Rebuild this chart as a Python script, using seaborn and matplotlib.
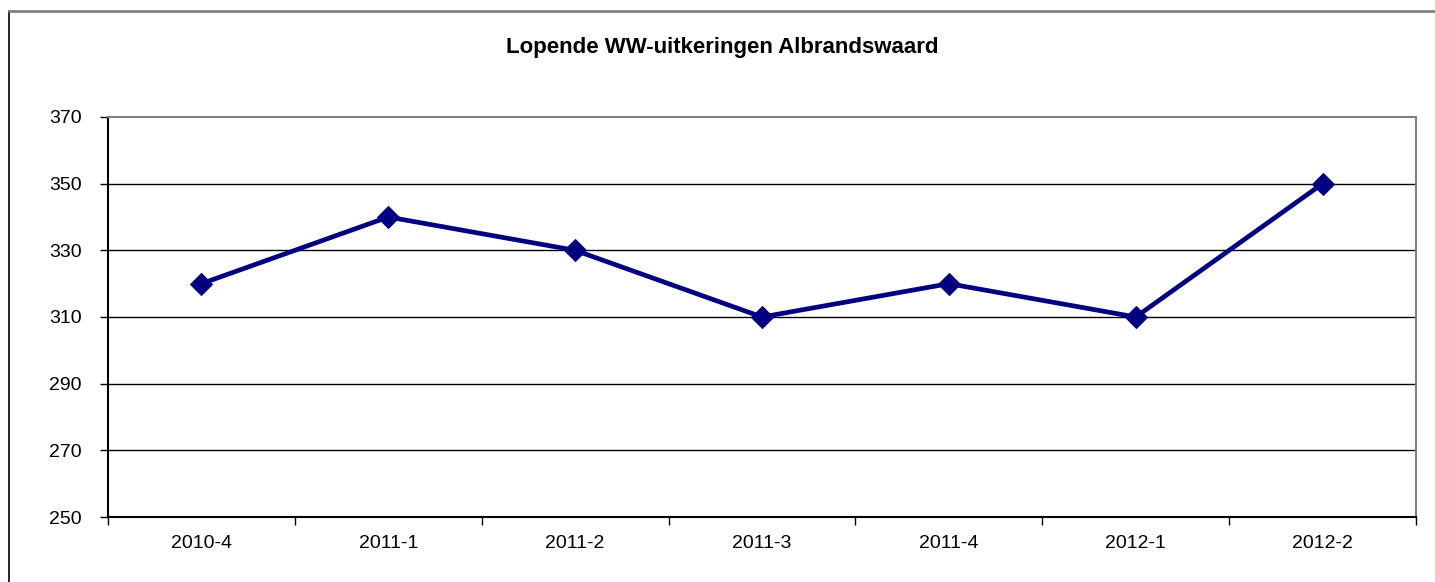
import matplotlib
matplotlib.use("Agg")
import matplotlib.pyplot as plt
from matplotlib.lines import Line2D
from matplotlib.ticker import FixedLocator
import seaborn as sns
import pandas as pd

quarters = ["2010-4", "2011-1", "2011-2", "2011-3", "2011-4", "2012-1", "2012-2"]
uitkeringen = [320, 340, 330, 310, 320, 310, 350]
y_ticks = [250, 270, 290, 310, 330, 350, 370]
title = "Lopende WW-uitkeringen Albrandswaard"

sns.set_style("white")
plt.rcParams["font.family"] = ["Liberation Sans", "DejaVu Sans"]
plt.rcParams["text.color"] = "black"

W, H = 1435, 582
fig = plt.figure(figsize=(W / 100, H / 100), dpi=100)
ax = fig.add_axes([108 / W, 1 - 517 / H, (1416 - 108) / W, (517 - 117) / H])

df = pd.DataFrame({"kwartaal": quarters, "aantal": uitkeringen})
df["pos"] = range(len(quarters))
sns.lineplot(data=df, x="pos", y="aantal", ax=ax, color="#000080", linewidth=3.4,
             marker="D", markersize=11, markeredgecolor="#000080", sort=False)

ax.set_xlim(-0.5, len(quarters) - 0.5)
ax.set_ylim(y_ticks[0], y_ticks[-1])
ax.set_yticks(y_ticks)
ax.set_xticks(range(len(quarters)))
ax.set_xticklabels(quarters)
ax.xaxis.set_minor_locator(FixedLocator([i - 0.5 for i in range(len(quarters) + 1)]))
ax.tick_params(axis="x", which="major", length=0, pad=13, labelsize=14, colors="black")
ax.tick_params(axis="x", which="minor", length=6, width=1, direction="out", color="black", bottom=True)
ax.tick_params(axis="y", length=6, width=1, direction="out", labelsize=14, pad=13, colors="black", left=True)
ax.set_xlabel("")
ax.set_ylabel("")

for y in y_ticks[1:-1]:
    ax.axhline(y, color="black", linewidth=1, zorder=0)

ax.spines["left"].set_color("black")
ax.spines["bottom"].set_color("black")
ax.spines["top"].set_color("#808080")
ax.spines["right"].set_color("#808080")
for s in ax.spines.values():
    s.set_linewidth(1.5)
    s.set_visible(True)

fig.text(722 / W, 1 - 48 / H, title, ha="center", va="center",
         fontsize=16, fontweight="bold", color="black")

fig.add_artist(Line2D([8.5 / W, 8.5 / W], [0, 1 - 10.5 / H], color="black", linewidth=1.2,
                      transform=fig.transFigure))
fig.add_artist(Line2D([8.5 / W, 1], [1 - 10.5 / H, 1 - 10.5 / H], color="#808080", linewidth=2,
                      transform=fig.transFigure))

fig.savefig("out.png", dpi=100, facecolor="white")
